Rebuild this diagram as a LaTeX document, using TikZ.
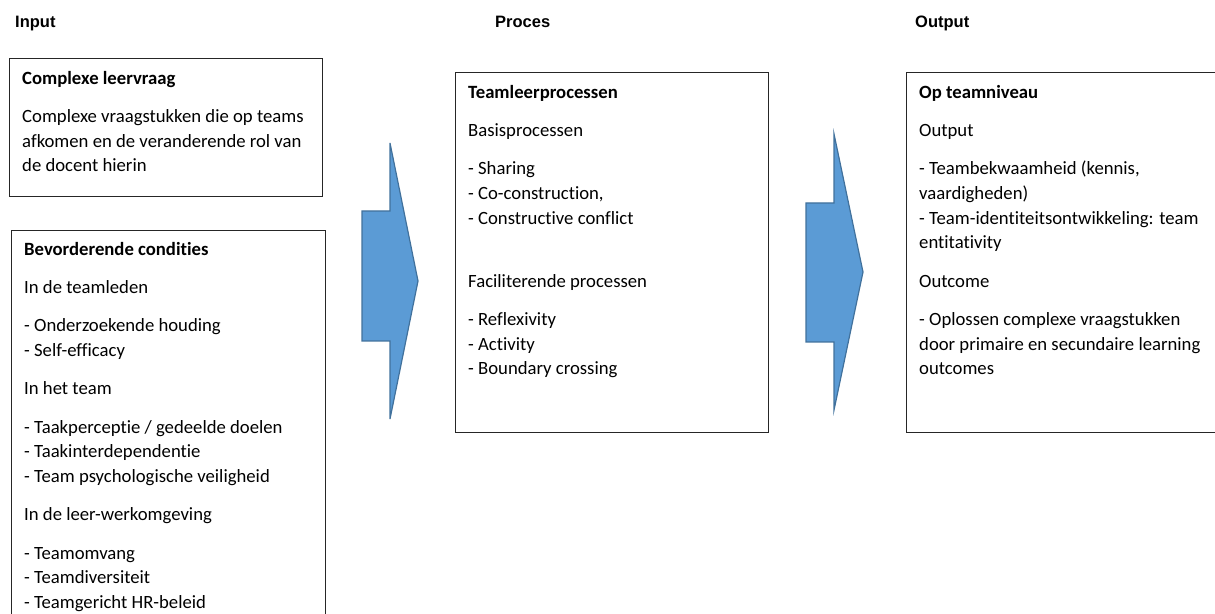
\documentclass[tikz,border=0pt]{standalone}
\usepackage{fontspec}
\setmainfont{Carlito}[Ligatures=NoCommon]
\newfontfamily\kopfont{Liberation Sans}
\usetikzlibrary{positioning}
\definecolor{pijlblauw}{HTML}{5B9BD5}
\definecolor{pijlrand}{HTML}{41719C}

\begin{document}
\begin{tikzpicture}[x=1pt, y=1pt,
  every node/.style={align=left, inner sep=0pt},
  kop/.style={font=\kopfont\bfseries\fontsize{16.5}{20}\selectfont, anchor=base west},
  blok/.style={rectangle, draw=black!85, line width=1.2pt, anchor=north west},
  tekst/.style={font=\fontsize{18.7}{24.6}\selectfont},
  pijl/.style={fill=pijlblauw, draw=pijlrand, line width=1.2pt, line join=miter}
]
\useasboundingbox (0,0) rectangle (1215,613);
\clip (0,0) rectangle (1215,613);
% Column headings
\node[kop] (input) at (15,585) {Input};
\node[kop] (proces) at (495,585) {Proces};
\node[kop] (output) at (915,585) {Output};
% Input column
\node[blok, minimum width=313pt, minimum height=138pt] (leervraag) at (9,555) {};
\node[tekst, below right=8.6pt and 13pt of leervraag.north west] (leervraagtekst) {\strut\textbf{Complexe leervraag}\\[13.8pt]
  Complexe vraagstukken die op teams\\ afkomen en de veranderende rol van\\ de docent hierin};
\node[blok, minimum width=314pt, minimum height=420pt] (condities) at (11,383) {};
\node[tekst, below right=7.6pt and 13pt of condities.north west] (conditiestekst) {\strut\textbf{Bevorderende condities}\\[13.8pt]
  In de teamleden\\[13.8pt]
  - Onderzoekende houding\\ - Self-efficacy\\[13.8pt]
  In het team\\[13.8pt]
  - Taakperceptie / gedeelde doelen\\ - Taakinterdependentie\\ - Team psychologische veiligheid\\[13.8pt]
  In de leer-werkomgeving\\[13.8pt]
  - Teamomvang\\ - Teamdiversiteit\\ - Teamgericht HR-beleid};
% Proces column
\node[blok, minimum width=313pt, minimum height=360pt] (leerproces) at (455,541) {};
\node[tekst, below right=8.6pt and 13pt of leerproces.north west] (leerprocestekst) {\strut\textbf{Teamleerprocessen}\\[13.8pt]
  Basisprocessen\\[13.8pt]
  - Sharing\\ - Co-construction,\\ - Constructive conflict\\[38.4pt]
  Faciliterende processen\\[13.8pt]
  - Reflexivity\\ - Activity\\ - Boundary crossing};
% Output column
\node[blok, minimum width=330pt, minimum height=360pt] (teamniveau) at (906,541) {};
\node[tekst, below right=8.6pt and 13pt of teamniveau.north west] (teamniveautekst) {\strut\textbf{Op teamniveau}\\[13.8pt]
  Output\\[13.8pt]
  - Teambekwaamheid (kennis,\\ vaardigheden)\\ - Team-identiteitsontwikkeling: team\\ entitativity\\[13.8pt]
  Outcome\\[13.8pt]
  - Oplossen complexe vraagstukken\\ door primaire en secundaire learning\\ outcomes};
% Block arrows
\draw[pijl] (362,402) -- (390,402) -- (390,470) -- (418,332) -- (390,194) -- (390,272) -- (362,272) -- cycle;
\draw[pijl] (806,410) -- (834,410) -- (834,479) -- (863,341) -- (834,203) -- (834,271) -- (806,271) -- cycle;
\end{tikzpicture}
\end{document}
